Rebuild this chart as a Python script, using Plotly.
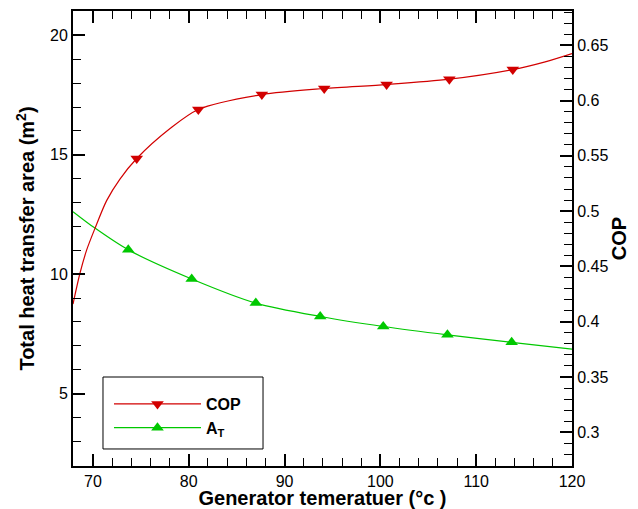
import plotly.graph_objects as go

# ---- data ----
cop_curve_x = [67.92, 68.64, 69.34, 70.21, 71.43, 72.82, 74.57, 78.05, 81.0, 87.63, 94.14, 100.65, 107.2, 113.82, 117.2, 120.0]
cop_curve_y = [0.416, 0.4436, 0.4647, 0.4843, 0.5095, 0.5290, 0.5476, 0.5747, 0.5919, 0.6054, 0.6109, 0.6145, 0.6193, 0.628, 0.635, 0.6425]
cop_mark_x = [74.57, 81.0, 87.63, 94.14, 100.65, 107.2, 113.82]
cop_mark_y = [0.5476, 0.5919, 0.6054, 0.6109, 0.6145, 0.6193, 0.628]

at_curve_x = [67.92, 70.21, 73.69, 80.31, 87.0, 93.72, 100.3, 107.0, 113.7, 120.0]
at_curve_y = [12.62, 11.93, 11.02, 9.80, 8.79, 8.23, 7.81, 7.46, 7.15, 6.86]
at_mark_x = [73.69, 80.31, 87.0, 93.72, 100.3, 107.0, 113.7]
at_mark_y = [11.02, 9.80, 8.79, 8.23, 7.81, 7.46, 7.15]

x_ticks = [70, 80, 90, 100, 110, 120]
y_ticks = [5, 10, 15, 20]
cop_ticks = [0.3, 0.35, 0.4, 0.45, 0.5, 0.55, 0.6, 0.65]
cop_ticktext = ["0.3", "0.35", "0.4", "0.45", "0.5", "0.55", "0.6", "0.65"]

RED = "#d20000"
GREEN = "#00c800"
FONT = "Liberation Sans, Arial, sans-serif"

fig = go.Figure()

# COP curve + markers (right axis)
fig.add_trace(go.Scatter(x=cop_curve_x, y=cop_curve_y, mode="lines", yaxis="y2",
                         line=dict(color=RED, width=1.2, shape="spline", smoothing=0.8),
                         showlegend=False, hoverinfo="skip"))
fig.add_trace(go.Scatter(x=cop_mark_x, y=cop_mark_y, mode="markers", yaxis="y2",
                         marker=dict(symbol="triangle-down", size=11, color=RED),
                         showlegend=False))
# A_T curve + markers (left axis)
fig.add_trace(go.Scatter(x=at_curve_x, y=at_curve_y, mode="lines",
                         line=dict(color=GREEN, width=1.2, shape="spline", smoothing=0.8),
                         showlegend=False, hoverinfo="skip"))
fig.add_trace(go.Scatter(x=at_mark_x, y=at_mark_y, mode="markers",
                         marker=dict(symbol="triangle-up", size=11, color=GREEN),
                         showlegend=False))
# legend entries
fig.add_trace(go.Scatter(x=[None], y=[None], mode="lines+markers", name="COP",
                         line=dict(color=RED, width=1.2),
                         marker=dict(symbol="triangle-down", size=11, color=RED)))
fig.add_trace(go.Scatter(x=[None], y=[None], mode="lines+markers", name="A<sub>T</sub>",
                         line=dict(color=GREEN, width=1.2),
                         marker=dict(symbol="triangle-up", size=11, color=GREEN)))

axis_common = dict(showline=True, linewidth=2, linecolor="black", showgrid=False,
                   zeroline=False, ticks="inside", ticklen=12, tickwidth=2,
                   tickcolor="black", automargin=False,
                   tickfont=dict(family=FONT, size=16, color="black"))

fig.update_layout(
    width=638, height=509,
    margin=dict(l=73, r=66, t=11, b=43),
    paper_bgcolor="white", plot_bgcolor="white",
    font=dict(family=FONT, color="black"),
    xaxis=dict(range=[67.92, 120], tickvals=x_ticks, mirror="ticks",
               minor=dict(dtick=2, tick0=0, ticklen=8, tickwidth=1, ticks="inside", tickcolor="black"),
               title=dict(text="Generator temeratuer (°c )", standoff=5,
                          font=dict(family=FONT, size=20, weight="bold")),
               **axis_common),
    yaxis=dict(range=[1.97, 21.02], tickvals=y_ticks, mirror=False,
               minor=dict(dtick=1, tick0=0, ticklen=8, tickwidth=1, ticks="inside", tickcolor="black"),
               title=dict(text="Total heat transfer area (m<sup>2</sup>)", standoff=10,
                          font=dict(family=FONT, size=20, weight="bold")),
               **axis_common),
    yaxis2=dict(range=[0.2695, 0.681], overlaying="y", side="right",
                tickvals=cop_ticks, ticktext=cop_ticktext,
                minor=dict(dtick=0.01, tick0=0, ticklen=8, tickwidth=1, ticks="inside", tickcolor="black"),
                title=dict(text="COP", standoff=0,
                           font=dict(family=FONT, size=20, weight="bold")),
                **axis_common),
    legend=dict(x=0.0721, y=0.1736, xanchor="left", yanchor="top",
                borderwidth=0, bgcolor="rgba(0,0,0,0)",
                itemwidth=87, tracegroupgap=0,
                font=dict(family=FONT, size=16, color="black", weight="bold")),
    shapes=[dict(type="rect", xref="paper", yref="paper",
                 x0=0.0601, x1=0.3808, y0=0.0374, y1=0.1956,
                 line=dict(color="black", width=1), fillcolor="white", layer="below")],
)

fig.write_html("out.html", config={"displayModeBar": False},
               post_script="document.body.style.margin='0';document.body.style.overflow='hidden';")
